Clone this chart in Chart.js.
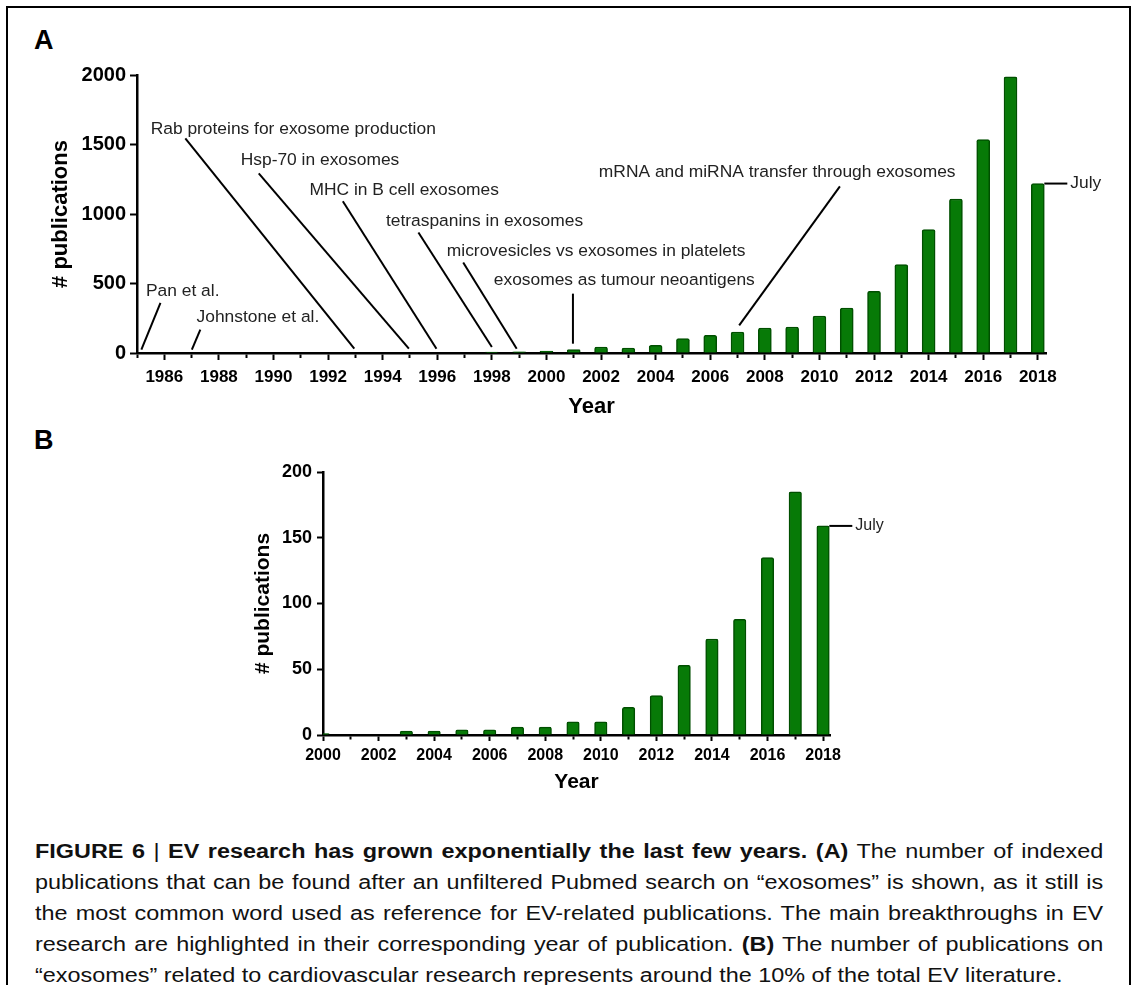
<!DOCTYPE html>
<html>
<head>
<meta charset="utf-8">
<script src="https://cdn.jsdelivr.net/npm/chart.js@4.4.1/dist/chart.umd.min.js"></script>
<style>
  body { margin: 0; background: #fff; width: 1135px; height: 985px; overflow: hidden; position: relative;
         font-family: "Liberation Sans", Arial, sans-serif; }
  #frame { position: absolute; left: 6px; top: 6px; width: 1121px; height: 1000px; border: 2px solid #000; }
  .letter { position: absolute; left: 34px; font-weight: bold; font-size: 27px; line-height: 27px; }
  #wrapA { position: absolute; left: 0; top: 0; }
  #wrapB { position: absolute; left: 0; top: 440px; }
  /* caption glyphs are wider than tall in the source, hence the horizontal stretch */
  #caption { position: absolute; left: 35px; top: 836px; width: 913px; font-size: 20px; line-height: 31px;
             text-align: justify; color: #111; transform: scaleX(1.17); transform-origin: 0 0; }
  #caption b { font-weight: bold; }
</style>
</head>
<body>
<div id="frame"></div>
<div class="letter" style="top:27px">A</div>
<div class="letter" style="top:427px">B</div>
<div id="wrapA"><canvas id="chartA" width="1135" height="430"></canvas></div>
<div id="wrapB"><canvas id="chartB" width="1135" height="370"></canvas></div>
<div id="caption"><b>FIGURE 6</b> | <b>EV research has grown exponentially the last few years. (A)</b> The number of indexed publications that can be found after an unfiltered Pubmed search on “exosomes” is shown, as it still is the most common word used as reference for EV-related publications. The main breakthroughs in EV research are highlighted in their corresponding year of publication. <b>(B)</b> The number of publications on “exosomes” related to cardiovascular research represents around the 10% of the total EV literature.</div>

<script>
// panel A: all "exosomes" publications per year
const yearsA = [1998, 1999, 2000, 2001, 2002, 2003, 2004, 2005, 2006, 2007, 2008, 2009, 2010, 2011, 2012, 2013, 2014, 2015, 2016, 2017, 2018];
const pubsA = [6, 8, 14, 24, 43, 36, 55, 103, 127, 151, 180, 187, 266, 324, 444, 636, 888, 1108, 1535, 1986, 1219];
const xTicksA = Array.from({ length: 34 }, (_, i) => 1985 + i);
const yTicksA = [0, 500, 1000, 1500, 2000];

// panel B: cardiovascular "exosomes" publications per year
const yearsB = [2000, 2001, 2002, 2003, 2004, 2005, 2006, 2007, 2008, 2009, 2010, 2011, 2012, 2013, 2014, 2015, 2016, 2017, 2018];
const pubsB = [1, 0, 0, 3, 3, 4, 4, 6, 6, 10, 10, 21, 30, 53, 73, 88, 135, 185, 159];
const xTicksB = Array.from({ length: 19 }, (_, i) => 2000 + i);
const yTicksB = [0, 50, 100, 150, 200];

// breakthroughs marked on panel A: text anchor and pointer line, in [year, publications]
const noteTexts = ['Pan et al.', 'Johnstone et al.', 'Rab proteins for exosome production', 'Hsp-70 in exosomes',
  'MHC in B cell exosomes', 'tetraspanins in exosomes', 'microvesicles vs exosomes in platelets',
  'exosomes as tumour neoantigens', 'mRNA and miRNA transfer through exosomes'];
const noteTextAt = [[1985.33, 444], [1987.18, 259], [1985.5, 1611], [1988.8, 1385], [1991.32, 1169],
  [1994.12, 951], [1996.35, 735], [1998.07, 523], [2001.92, 1302]];
const noteLineTop = [[1985.86, 360], [1987.32, 168], [1986.77, 1544], [1989.46, 1292], [1992.54, 1092],
  [1995.31, 867], [1996.95, 651], [2000.97, 427], [2010.75, 1199]];
const noteLineEnd = [[1985.16, 24], [1987.01, 24], [1992.96, 31], [1994.96, 31], [1995.97, 31],
  [1998.0, 43], [1998.91, 31], [2000.97, 67], [2007.06, 199]];

Chart.defaults.font.family = '"Liberation Sans", Arial, sans-serif';
Chart.defaults.color = '#000';

const GREEN = '#077a07';
const GREEN_EDGE = '#004f00';

// "— July" marker next to the last (incomplete) year
const julyPlugin = {
  id: 'july',
  afterDatasetsDraw(chart, args, opts) {
    const bars = chart.getDatasetMeta(0).data;
    const last = bars[bars.length - 1];
    const x0 = last.x + last.width / 2;
    const ctx = chart.ctx;
    ctx.save();
    ctx.strokeStyle = '#000';
    ctx.lineWidth = 2;
    ctx.beginPath();
    ctx.moveTo(x0, last.y);
    ctx.lineTo(x0 + 23, last.y);
    ctx.stroke();
    ctx.fillStyle = '#222';
    ctx.font = (opts.size || 16) + 'px "Liberation Sans", Arial, sans-serif';
    ctx.textBaseline = 'middle';
    ctx.fillText('July', x0 + 26, last.y);
    ctx.restore();
  }
};

const notesPlugin = {
  id: 'notes',
  afterDatasetsDraw(chart) {
    const { ctx, scales: { x, y } } = chart;
    ctx.save();
    ctx.strokeStyle = '#000';
    ctx.lineWidth = 2;
    ctx.fillStyle = '#222';
    ctx.font = '17.4px "Liberation Sans", Arial, sans-serif';
    ctx.textBaseline = 'middle';
    noteTexts.forEach((t, i) => {
      ctx.beginPath();
      ctx.moveTo(x.getPixelForValue(noteLineTop[i][0]), y.getPixelForValue(noteLineTop[i][1]));
      ctx.lineTo(x.getPixelForValue(noteLineEnd[i][0]), y.getPixelForValue(noteLineEnd[i][1]));
      ctx.stroke();
      ctx.fillText(t, x.getPixelForValue(noteTextAt[i][0]), y.getPixelForValue(noteTextAt[i][1]));
    });
    ctx.restore();
  }
};

function makeChart(id, years, pubs, xTicks, yTicks, o) {
  return new Chart(document.getElementById(id), {
    type: 'bar',
    data: {
      datasets: [{
        data: years.map((yr, i) => ({ x: yr, y: pubs[i] })),
        backgroundColor: GREEN,
        borderColor: GREEN_EDGE,
        borderWidth: 1.5,
        borderRadius: 2,
        barThickness: o.bar
      }]
    },
    options: {
      responsive: false,
      animation: false,
      layout: { padding: o.pad },
      plugins: { legend: { display: false }, tooltip: { enabled: false }, july: { size: o.july } },
      scales: {
        x: {
          type: 'linear',
          min: o.xmin, max: o.xmax,
          offset: false,
          afterBuildTicks: s => { s.ticks = xTicks.map(v => ({ value: v })); },
          afterFit: s => { s.height = o.xh; },
          border: { color: '#000', width: 2.5 },
          grid: {
            drawOnChartArea: false, offset: false, tickLength: o.tl, tickWidth: 2, tickColor: '#000',
            tickBorderDash: c => (c.tick && c.tick.value % 2) ? [o.tl / 2, 40] : []
          },
          ticks: {
            autoSkip: false, maxRotation: 0, minRotation: 0, padding: o.xpad,
            font: { size: o.xfs, weight: 'bold' },
            callback: v => (v % 2 === 0 ? String(v) : '')
          },
          title: { display: true, text: 'Year', font: { size: o.tfs, weight: 'bold' }, padding: { top: 4, bottom: 4 } }
        },
        y: {
          min: 0, max: yTicks[yTicks.length - 1],
          afterBuildTicks: s => { s.ticks = yTicks.map(v => ({ value: v })); },
          afterFit: s => { s.width = o.yw; },
          border: { color: '#000', width: 2.5 },
          grid: { drawOnChartArea: false, tickLength: o.tl, tickWidth: 2, tickColor: '#000' },
          ticks: { padding: o.ypad, font: { size: o.yfs, weight: 'bold' }, callback: v => String(v) },
          title: { display: true, text: '# publications', font: { size: o.tfs, weight: 'bold' }, padding: { top: 4, bottom: 4 } }
        }
      }
    },
    plugins: o.extra
  });
}

makeChart('chartA', yearsA, pubsA, xTicksA, yTicksA, {
  bar: 13, xmin: 1985, xmax: 2018.3, xh: 71, yw: 93, tl: 7, xpad: 7, ypad: 4, xfs: 17, yfs: 20, tfs: 22, july: 17.4,
  pad: { left: 44, top: 75, right: 89, bottom: 6 },
  extra: [notesPlugin, julyPlugin]
});

makeChart('chartB', yearsB, pubsB, xTicksB, yTicksB, {
  bar: 12.5, xmin: 2000, xmax: 2018.25, xh: 64, yw: 76, tl: 6, xpad: 5, ypad: 5, xfs: 16, yfs: 18, tfs: 21, july: 16,
  pad: { left: 247, top: 32, right: 305, bottom: 11 },
  extra: [julyPlugin]
});
</script>
</body>
</html>
